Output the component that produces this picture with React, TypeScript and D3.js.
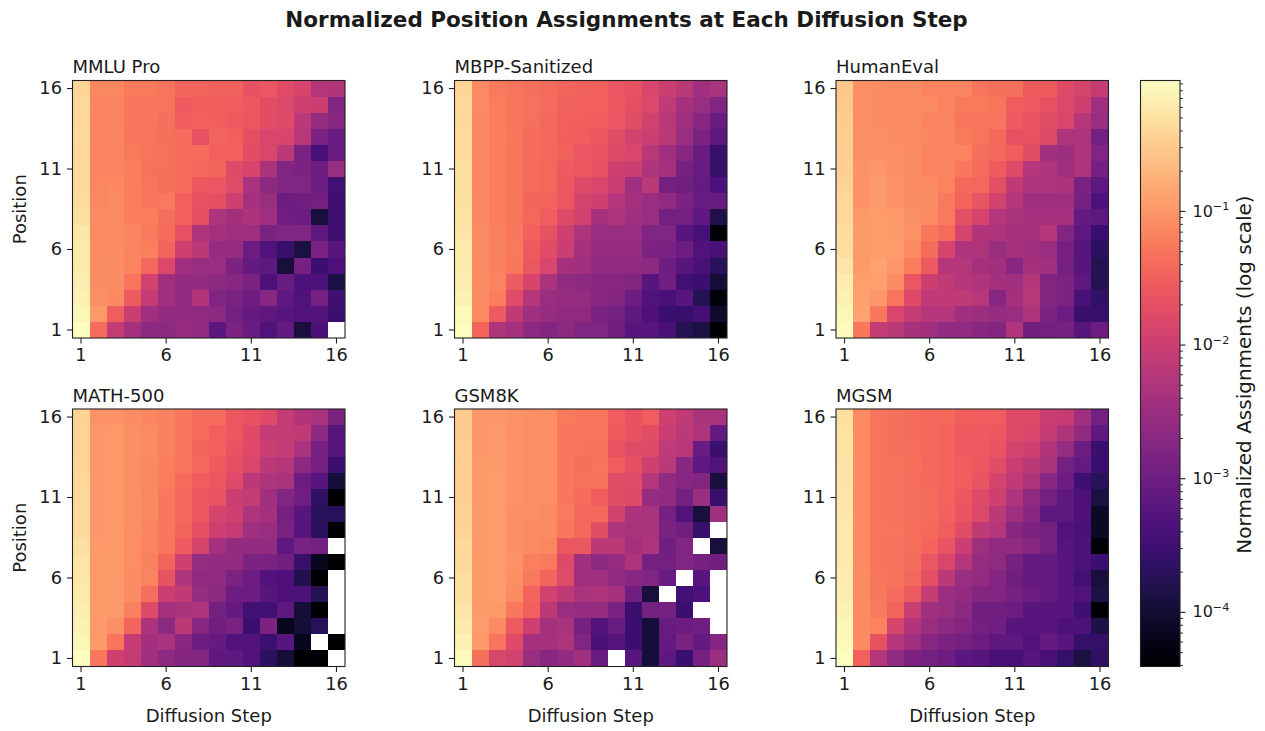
import React, { useEffect, useRef } from "react";
import * as d3 from "d3";

// 0 means no assignments at all, the log norm masks those and the cell stays white
const UNIT = 1e-4;
const steps = d3.range(1, 17);
const positionsTopDown = d3.range(16, 0, -1);
const tickLabels = [1, 6, 11, 16];
const majorTicks = [1e-1, 1e-2, 1e-3, 1e-4];
const exponents = ["\u22121", "\u22122", "\u22123", "\u22124"];
const vmin = 3.9e-5;
const vmax = 0.946;

const mmluPro = [
  [3900, 750, 750, 560, 560, 500, 350, 350, 340, 340, 220, 260, 180, 140, 58, 52],
  [4200, 720, 720, 540, 540, 500, 280, 310, 310, 300, 270, 190, 160, 110, 100, 16],
  [4200, 700, 700, 540, 520, 470, 300, 320, 310, 280, 260, 190, 170, 70, 27, 20],
  [4300, 700, 720, 530, 510, 470, 430, 220, 370, 330, 200, 150, 140, 65, 14, 9],
  [4200, 700, 700, 560, 500, 480, 430, 430, 320, 320, 190, 150, 70, 14, 4, 9],
  [4300, 720, 700, 600, 480, 470, 430, 400, 360, 170, 140, 46, 16, 15, 10, 30],
  [4400, 750, 780, 600, 530, 460, 430, 270, 250, 180, 46, 22, 16, 16, 10, 3.5],
  [4600, 750, 800, 600, 520, 560, 320, 220, 200, 110, 40, 30, 10, 11, 12, 3.3],
  [5000, 800, 800, 620, 620, 440, 320, 200, 50, 38, 48, 35, 11, 10, 1.2, 3.2],
  [5700, 800, 800, 720, 570, 410, 210, 50, 40, 34, 34, 14, 16, 16, 7, 3.2],
  [6000, 820, 820, 700, 640, 360, 110, 70, 28, 28, 10, 5, 2.6, 1.3, 14, 6],
  [6300, 850, 850, 700, 400, 160, 35, 30, 30, 15, 8, 7, 1.2, 13, 3, 4.5],
  [6800, 850, 850, 500, 120, 35, 26, 26, 22, 20, 14, 4.5, 9, 4.5, 4.5, 1.3],
  [7200, 900, 780, 280, 90, 35, 26, 55, 16, 14, 10, 20, 7, 5, 13, 3.2],
  [8000, 1100, 300, 100, 36, 26, 26, 24, 22, 12, 8, 7.5, 6, 5, 5, 3],
  [9200, 430, 90, 40, 22, 22, 28, 25, 6.5, 15, 9, 5, 8, 1.2, 4, 0],
];

const mbppSanitized = [
  [3900, 800, 560, 500, 470, 420, 350, 340, 330, 250, 220, 150, 100, 70, 35, 45],
  [4200, 800, 600, 520, 480, 420, 340, 330, 320, 260, 200, 160, 75, 40, 30, 16],
  [4400, 780, 600, 520, 460, 400, 320, 310, 300, 250, 190, 120, 65, 35, 20, 9],
  [4500, 760, 600, 540, 420, 390, 310, 300, 260, 190, 120, 100, 70, 30, 15, 7],
  [4600, 760, 600, 530, 420, 390, 340, 250, 240, 170, 150, 65, 35, 20, 9, 2.7],
  [4700, 760, 600, 530, 430, 380, 280, 260, 220, 110, 100, 50, 40, 13, 9, 2.5],
  [4800, 780, 600, 530, 420, 380, 270, 170, 150, 100, 35, 70, 12, 11, 8, 4.5],
  [5000, 780, 620, 530, 350, 350, 260, 130, 110, 60, 40, 30, 25, 15, 9, 9],
  [5200, 780, 620, 520, 380, 300, 170, 120, 40, 50, 35, 30, 12, 13, 7, 1.5],
  [5500, 800, 650, 540, 340, 220, 110, 50, 30, 30, 30, 16, 16, 6, 3.7, 0.45],
  [6000, 800, 650, 560, 290, 180, 100, 40, 28, 28, 28, 15, 14, 10, 5, 4],
  [6300, 820, 650, 540, 260, 150, 40, 35, 25, 25, 25, 22, 10, 6, 4, 2],
  [6800, 820, 680, 280, 140, 45, 25, 22, 20, 20, 17, 6, 11, 3.5, 3, 1.1],
  [7300, 850, 600, 180, 60, 30, 28, 28, 20, 18, 10, 5, 4.2, 6, 1.7, 0.5],
  [8500, 800, 280, 80, 35, 28, 24, 24, 14, 12, 7, 4.5, 3, 2.9, 3.6, 0.9],
  [9300, 360, 50, 40, 22, 18, 22, 16, 16, 11, 6, 6, 4, 1.7, 1.3, 0.4],
];

const humanEval = [
  [3000, 900, 850, 800, 800, 700, 680, 680, 500, 470, 470, 290, 290, 170, 130, 90],
  [3100, 880, 850, 820, 800, 800, 680, 560, 560, 520, 300, 280, 220, 160, 110, 35],
  [3200, 880, 850, 820, 800, 700, 680, 520, 500, 500, 280, 240, 190, 150, 60, 30],
  [3300, 900, 880, 850, 800, 720, 700, 560, 500, 400, 220, 230, 170, 50, 50, 12],
  [3400, 900, 900, 880, 820, 700, 680, 680, 450, 400, 300, 190, 37, 32, 50, 16],
  [3500, 950, 1000, 900, 850, 700, 700, 550, 430, 290, 170, 60, 50, 35, 50, 13],
  [3700, 950, 1100, 950, 850, 800, 700, 400, 380, 200, 80, 50, 50, 48, 14, 7],
  [4000, 950, 1100, 950, 850, 830, 560, 350, 240, 120, 60, 35, 35, 35, 13, 4.5],
  [4200, 1050, 1150, 1050, 900, 800, 580, 200, 130, 60, 45, 40, 40, 40, 8, 7],
  [4500, 1100, 1200, 1100, 950, 550, 420, 130, 55, 50, 40, 40, 60, 16, 7, 3],
  [4800, 1100, 1200, 1150, 800, 430, 130, 50, 50, 30, 40, 35, 30, 13, 5.5, 2.2],
  [5500, 1100, 1350, 1000, 600, 280, 60, 60, 40, 35, 20, 40, 35, 12, 6, 1.7],
  [6500, 1250, 1250, 850, 250, 100, 80, 60, 55, 40, 35, 60, 17, 15, 7, 1.7],
  [7000, 1300, 1000, 500, 170, 75, 75, 80, 65, 20, 40, 65, 17, 15, 4, 2.4],
  [7800, 1350, 550, 150, 90, 60, 60, 35, 32, 28, 30, 50, 15, 10, 2.7, 2.6],
  [9000, 550, 85, 70, 42, 38, 25, 25, 20, 18, 55, 11, 12, 13, 6, 10],
];

const math500 = [
  [3600, 950, 950, 850, 720, 650, 550, 430, 410, 260, 220, 170, 85, 55, 45, 15],
  [3700, 1000, 1050, 900, 800, 650, 550, 430, 320, 270, 170, 90, 85, 80, 22, 6],
  [3800, 1000, 1050, 900, 800, 650, 550, 370, 320, 230, 170, 100, 85, 45, 13, 6],
  [3900, 1000, 1050, 900, 780, 600, 500, 400, 280, 200, 150, 70, 60, 22, 13, 3],
  [4100, 1000, 1050, 900, 780, 600, 430, 300, 260, 170, 70, 50, 45, 10, 6, 1.1],
  [4200, 1000, 1050, 900, 750, 550, 400, 270, 240, 100, 90, 35, 16, 11, 2.3, 0.4],
  [4300, 1000, 1050, 900, 730, 550, 400, 270, 130, 110, 50, 40, 13, 6, 2, 2],
  [4300, 1000, 1050, 880, 720, 540, 350, 200, 110, 90, 35, 30, 14, 6, 2.2, 0.4],
  [4900, 1050, 1080, 880, 700, 530, 280, 130, 40, 26, 26, 26, 7, 14, 12, 0],
  [5500, 1050, 1100, 880, 650, 350, 110, 27, 26, 26, 15, 14, 11, 2.8, 0.7, 0.4],
  [5800, 1050, 1100, 850, 700, 230, 50, 24, 24, 15, 10, 5, 4.5, 1.6, 0.4, 0],
  [6000, 1050, 1100, 850, 450, 100, 80, 27, 22, 10, 10, 6, 4.5, 4.5, 1.7, 0],
  [6700, 1100, 1080, 650, 170, 40, 45, 50, 12, 8, 3.5, 3.5, 7, 1.1, 0.4, 0],
  [7400, 1100, 900, 350, 48, 22, 70, 20, 11, 14, 3, 15, 0.7, 1.1, 2, 0],
  [8300, 1100, 500, 90, 38, 45, 20, 10, 8, 5, 5, 3.1, 6, 0.7, 0, 0.4],
  [9300, 550, 110, 90, 35, 22, 18, 17, 7, 7, 5, 2.2, 1.1, 0.4, 0.4, 0],
];

const gsm8k = [
  [3100, 1000, 1000, 950, 900, 880, 570, 520, 530, 300, 220, 300, 110, 80, 45, 45],
  [3200, 1000, 1050, 950, 900, 880, 550, 520, 500, 290, 230, 190, 100, 70, 50, 8],
  [3300, 1000, 1100, 950, 900, 880, 550, 500, 490, 240, 180, 170, 75, 65, 9, 3],
  [3400, 1050, 1100, 950, 880, 880, 540, 470, 500, 300, 200, 110, 70, 20, 7, 5],
  [3400, 1050, 1150, 950, 900, 880, 540, 480, 480, 190, 180, 60, 25, 20, 17, 1.2],
  [3500, 1050, 1150, 950, 900, 880, 550, 420, 300, 190, 170, 28, 25, 12, 30, 2.8],
  [3600, 1050, 1150, 900, 880, 800, 560, 400, 400, 120, 48, 45, 13, 5, 1.2, 35],
  [3800, 1050, 1150, 900, 820, 800, 550, 400, 190, 50, 45, 45, 14, 11, 2.8, 0],
  [4000, 1050, 1150, 900, 800, 740, 260, 260, 70, 70, 40, 50, 11, 16, 0, 1.2],
  [4400, 1100, 1150, 950, 640, 560, 170, 35, 22, 28, 50, 12, 12, 16, 13, 11],
  [4800, 1100, 1150, 900, 560, 350, 180, 35, 35, 25, 20, 16, 9, 0, 6, 0],
  [5000, 1100, 1200, 850, 350, 120, 80, 45, 50, 40, 11, 1.2, 0, 3.5, 4.5, 0],
  [5500, 1100, 1050, 550, 330, 70, 30, 28, 28, 14, 3, 12, 13, 3, 0, 0],
  [6000, 1150, 800, 280, 110, 40, 45, 12, 5, 9, 3, 1.1, 9, 10, 11, 0],
  [7000, 1050, 500, 170, 40, 40, 50, 16, 4, 5.5, 3, 1.1, 8, 14, 8, 18],
  [8700, 470, 150, 120, 30, 20, 25, 35, 9, 0, 6, 1.1, 7, 3, 13, 32],
];

const mgsm = [
  [5000, 800, 500, 460, 430, 400, 400, 310, 300, 300, 170, 170, 100, 90, 35, 12],
  [5100, 820, 510, 460, 430, 400, 370, 280, 280, 270, 170, 150, 90, 50, 25, 7],
  [5200, 820, 510, 470, 450, 400, 350, 280, 280, 240, 130, 110, 55, 27, 10, 3],
  [5300, 820, 510, 480, 460, 400, 360, 300, 270, 190, 100, 70, 45, 12, 8, 3],
  [5400, 820, 510, 480, 440, 400, 360, 300, 240, 130, 80, 50, 20, 10, 3.3, 2],
  [5500, 820, 510, 480, 440, 420, 360, 260, 170, 110, 50, 24, 12, 7, 4.5, 1.3],
  [5700, 820, 510, 480, 440, 420, 340, 240, 160, 70, 35, 20, 7, 7, 4.5, 0.8],
  [5900, 820, 510, 500, 440, 390, 300, 190, 80, 60, 20, 15, 12, 5, 4, 0.8],
  [6100, 820, 510, 480, 440, 370, 240, 100, 34, 24, 25, 20, 12, 5.5, 4.5, 0.45],
  [6300, 820, 510, 480, 420, 250, 150, 60, 28, 24, 13, 8, 8, 6, 4.5, 3],
  [6600, 820, 540, 480, 380, 200, 70, 30, 26, 18, 11, 8, 8, 6, 3.6, 1.2],
  [6800, 820, 540, 430, 280, 90, 32, 26, 18, 17, 13, 10, 8, 6, 5, 1.4],
  [7200, 820, 580, 360, 100, 35, 30, 22, 11, 11, 10, 6, 6, 6, 3.3, 0.4],
  [7800, 800, 700, 140, 55, 30, 22, 18, 12, 11, 6, 6, 6, 4.5, 4.5, 1.4],
  [8500, 800, 220, 60, 35, 20, 15, 12, 10, 7, 7, 5, 8, 6, 2.5, 2.5],
  [9200, 320, 60, 25, 15, 12, 10, 6.5, 5.5, 4, 4, 5.5, 4, 2.5, 1.3, 2.3],
];

const panels = [
  { name: "MMLU Pro", rows: mmluPro },
  { name: "MBPP-Sanitized", rows: mbppSanitized },
  { name: "HumanEval", rows: humanEval },
  { name: "MATH-500", rows: math500 },
  { name: "GSM8K", rows: gsm8k },
  { name: "MGSM", rows: mgsm },
];

const FONT = "'DejaVu Sans', sans-serif";
const INK = "#1a1a1a";
const colLeft = [72.5, 454.5, 836];
const rowTop = [80.5, 409];
const panelW = 272.5;
const panelH = 257.5;

export default function App() {
  const ref = useRef<SVGSVGElement>(null);

  useEffect(() => {
    const svg = d3.select(ref.current);
    svg.selectAll("*").remove();

    const norm = d3.scaleLog().domain([vmin, vmax]).range([0, 1]).clamp(true);

    svg.append("text")
      .attr("x", 626.5)
      .attr("y", 27)
      .attr("text-anchor", "middle")
      .attr("font-size", 21.5)
      .attr("font-weight", "bold")
      .attr("fill", INK)
      .text("Normalized Position Assignments at Each Diffusion Step");

    panels.forEach((panel, idx) => {
      const col = idx % 3;
      const row = Math.floor(idx / 3);
      const g = svg.append("g")
        .attr("transform", `translate(${colLeft[col]},${rowTop[row]})`);

      const x = d3.scaleBand<number>().domain(steps).range([0, panelW]);
      const y = d3.scaleBand<number>().domain(positionsTopDown).range([0, panelH]);

      panel.rows.forEach((values, r) => {
        g.append("g")
          .selectAll("rect")
          .data(values.map((v, c) => ({ v: v * UNIT, step: steps[c] })).filter((d) => d.v > 0))
          .enter()
          .append("rect")
          .attr("x", (d) => x(d.step)!)
          .attr("y", y(positionsTopDown[r])!)
          .attr("width", x.bandwidth())
          .attr("height", y.bandwidth())
          .attr("shape-rendering", "crispEdges")
          .attr("fill", (d) => d3.interpolateMagma(norm(d.v)));
      });

      g.append("rect")
        .attr("width", panelW)
        .attr("height", panelH)
        .attr("fill", "none")
        .attr("stroke", "#222")
        .attr("stroke-width", 1.1);

      const bottom = g.append("g")
        .attr("transform", `translate(0,${panelH})`)
        .call(d3.axisBottom(x).tickValues(tickLabels).tickSize(5.5).tickPadding(5));
      const left = g.append("g")
        .call(d3.axisLeft(y).tickValues(tickLabels).tickSize(5.5).tickPadding(5));
      [bottom, left].forEach((axis) => {
        axis.select(".domain").remove();
        axis.selectAll("line").attr("stroke", "#222").attr("stroke-width", 1.1);
        axis.selectAll("text")
          .attr("font-family", FONT)
          .attr("font-size", 17.8)
          .attr("fill", INK);
      });

      g.append("text")
        .attr("x", 0)
        .attr("y", -7.5)
        .attr("font-size", 18)
        .attr("fill", INK)
        .text(panel.name);

      if (row === 1) {
        g.append("text")
          .attr("x", panelW / 2)
          .attr("y", panelH + 55.5)
          .attr("text-anchor", "middle")
          .attr("font-size", 18)
          .attr("fill", INK)
          .text("Diffusion Step");
      }
      if (col === 0) {
        g.append("text")
          .attr("transform", `translate(-46.5,${panelH / 2}) rotate(-90)`)
          .attr("text-anchor", "middle")
          .attr("font-size", 18)
          .attr("fill", INK)
          .text("Position");
      }
    });

    // colorbar
    const barX = 1140.5;
    const barY = 80.5;
    const barW = 39.5;
    const barH = 586;
    const cbar = svg.append("g").attr("transform", `translate(${barX},${barY})`);
    const scale = d3.scaleLog().domain([vmax, vmin]).range([0, barH]);

    const grad = svg.append("defs").append("linearGradient")
      .attr("id", "magma-bar")
      .attr("x1", 0).attr("x2", 0).attr("y1", 1).attr("y2", 0);
    d3.range(0, 1.0001, 1 / 64).forEach((t) => {
      grad.append("stop")
        .attr("offset", t)
        .attr("stop-color", d3.interpolateMagma(t));
    });
    cbar.append("rect")
      .attr("width", barW)
      .attr("height", barH)
      .attr("fill", "url(#magma-bar)")
      .attr("stroke", "#222")
      .attr("stroke-width", 1.1);

    const minorTicks = [1e-5, 1e-4, 1e-3, 1e-2, 1e-1]
      .flatMap((d) => d3.range(2, 10).map((m) => m * d))
      .filter((v) => v >= vmin && v <= vmax);

    const minor = cbar.append("g")
      .attr("transform", `translate(${barW},0)`)
      .call(d3.axisRight(scale).tickValues(minorTicks).tickSize(3).tickFormat(() => ""));
    minor.select(".domain").remove();
    minor.selectAll("line").attr("stroke", "#222").attr("stroke-width", 0.9);

    const major = cbar.append("g")
      .attr("transform", `translate(${barW},0)`)
      .call(d3.axisRight(scale).tickValues(majorTicks).tickSize(5.5).tickPadding(7).tickFormat(() => "10"));
    major.select(".domain").remove();
    major.selectAll("line").attr("stroke", "#222").attr("stroke-width", 1.1);
    major.selectAll<SVGTextElement, number>("text")
      .attr("font-family", FONT)
      .attr("font-size", 16)
      .attr("fill", INK)
      .each(function (_d, i) {
        d3.select(this).append("tspan")
          .attr("dy", -6.5)
          .attr("font-size", 11.2)
          .text(exponents[i]);
      });

    svg.append("text")
      .attr("transform", `translate(1251,${barY + barH / 2 + 1}) rotate(-90)`)
      .attr("text-anchor", "middle")
      .attr("font-size", 20)
      .attr("fill", INK)
      .text("Normalized Assignments (log scale)");
  }, []);

  return (
    <svg
      ref={ref}
      width={1265}
      height={731}
      fontFamily={FONT}
      style={{ position: "absolute", left: 0, top: 0, background: "#fff" }}
    />
  );
}
